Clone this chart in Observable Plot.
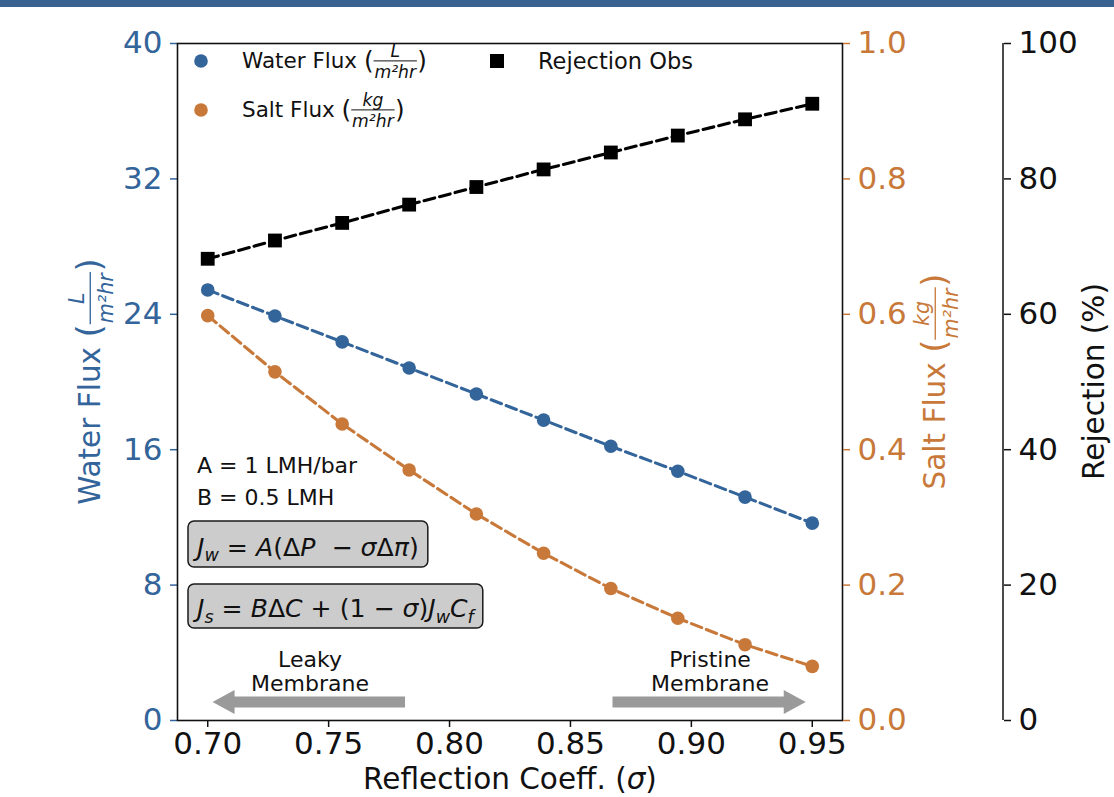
<!DOCTYPE html>
<html><head><meta charset="utf-8">
<script src="https://cdn.jsdelivr.net/npm/d3@7"></script>
<script src="https://cdn.jsdelivr.net/npm/@observablehq/plot@0.6"></script>
<style>
body{margin:0;background:#fff;}
#wrap{position:relative;width:1114px;height:797px;overflow:hidden;background:#fff;}
#bar{position:absolute;left:0;top:0;width:1114px;height:7px;background:#3a6291;}
#wrap svg{position:absolute;left:0;top:0;}
</style></head><body>
<div id="wrap"><div id="bar"></div></div>
<script>
// ---- data ----
const sigma = [0.70, 0.7278, 0.7556, 0.7833, 0.8111, 0.8389, 0.8667, 0.8944, 0.9222, 0.95];
const waterFlux = [25.44, 23.90, 22.37, 20.83, 19.29, 17.75, 16.20, 14.73, 13.20, 11.66];
const saltFlux = [0.598, 0.515, 0.438, 0.370, 0.305, 0.247, 0.195, 0.151, 0.112, 0.080];
const rejection = [68.2, 70.9, 73.5, 76.2, 78.8, 81.4, 83.9, 86.4, 88.8, 91.1];
const xTicks = [0.70, 0.75, 0.80, 0.85, 0.90, 0.95];
const waterTicks = [0, 8, 16, 24, 32, 40];
const saltTicks = [0, 0.2, 0.4, 0.6, 0.8, 1.0];
const rejTicks = [0, 20, 40, 60, 80, 100];

const BLUE = "#33649a", ORANGE = "#c8793a", INK = "#111";
const FONT = "DejaVu Sans, Verdana, sans-serif";
const rows = sigma.map((s, i) => ({sigma: s, water: waterFlux[i], salt: saltFlux[i], rej: rejection[i]}));

const W = 1114, H = 797;
const TICKFS = 31;
const base = {
  width: W, height: H, marginLeft: 177, marginRight: 272, marginTop: 43, marginBottom: 77,
  style: {fontFamily: FONT, fontSize: TICKFS + "px", background: "transparent", overflow: "visible"}
};
const xDomain = [0.6875, 0.9625];
const dash = "11,5";
const LW = 3.1;

const p1 = Plot.plot({
  ...base,
  x: {domain: xDomain},
  y: {domain: [0, 40]},
  marks: [
    Plot.line(rows, {x: "sigma", y: "water", stroke: BLUE, strokeWidth: LW, strokeDasharray: dash}),
    Plot.dot(rows, {x: "sigma", y: "water", r: 6.8, fill: BLUE}),
    Plot.axisX(xTicks, {color: INK, tickSize: 7, tickPadding: 4, strokeWidth: 1.5, fontSize: TICKFS, tickFormat: d => d.toFixed(2), label: null}),
    Plot.axisY(waterTicks, {anchor: "left", color: BLUE, tickSize: 7, tickPadding: 8, strokeWidth: 1.5, fontSize: TICKFS, label: null}),
    Plot.frame({stroke: INK, strokeWidth: 1.6})
  ]
});

const p2 = Plot.plot({
  ...base,
  x: {domain: xDomain, axis: null},
  y: {domain: [0, 1]},
  marks: [
    Plot.line(rows, {x: "sigma", y: "salt", stroke: ORANGE, strokeWidth: LW, strokeDasharray: dash}),
    Plot.dot(rows, {x: "sigma", y: "salt", r: 6.8, fill: ORANGE}),
    Plot.axisY(saltTicks, {anchor: "right", color: ORANGE, tickSize: 7, tickPadding: 8, strokeWidth: 1.5, fontSize: TICKFS, tickFormat: d => d.toFixed(1), label: null})
  ]
});

const p3 = Plot.plot({
  ...base,
  x: {domain: xDomain, axis: null},
  y: {domain: [0, 100]},
  marks: [
    Plot.line(rows, {x: "sigma", y: "rej", stroke: "#000", strokeWidth: LW, strokeDasharray: dash}),
    Plot.dot(rows, {x: "sigma", y: "rej", symbol: "square", r: 7.8, fill: "#000"}),
    Plot.axisY(rejTicks, {anchor: "right", dx: 161, color: INK, tickSize: 7, tickPadding: 8, strokeWidth: 1.5, fontSize: TICKFS, label: null})
  ]
});

const wrap = document.getElementById("wrap");
wrap.append(p1, p2, p3);

const svg = d3.select(p3);
const yR = p3.scale("y");
const ann = svg.append("g").attr("font-family", FONT).attr("text-anchor", "start");

// rejection axis spine
ann.append("line").attr("x1", 1003).attr("x2", 1003)
  .attr("y1", yR.apply(0)).attr("y2", yR.apply(100))
  .attr("stroke", INK).attr("stroke-width", 1.5);

function txt(parent, s, x, y, size, color, anchor = "start") {
  return parent.append("text").attr("x", x).attr("y", y).attr("font-size", size)
    .attr("fill", color).attr("text-anchor", anchor).style("white-space", "pre").text(s);
}

// label with a stacked fraction inside slightly enlarged parentheses
function fracLabel(parent, {x, y, rotate = 0, size, color, pre, num, den, center = false, fr = 0.8}) {
  const g = parent.append("g").attr("fill", color);
  const t1 = txt(g, pre, 0, 0, size, color);
  const w1 = t1.node().getComputedTextLength();
  const ps = size * 1.15, pdy = size * 0.05;
  const lp = txt(g, "(", w1, pdy, ps, color);
  const wp = lp.node().getComputedTextLength();
  const fs = size * fr;
  const tn = txt(g, num, 0, 0, fs, color, "middle").attr("font-style", "italic");
  const td = txt(g, den, 0, 0, fs, color, "middle").attr("font-style", "italic");
  const fw = Math.max(tn.node().getComputedTextLength(), td.node().getComputedTextLength()) + size * 0.08;
  const x0 = w1 + wp;
  const ly = -size * 0.33;
  tn.attr("x", x0 + fw / 2).attr("y", ly - size * 0.2);
  td.attr("x", x0 + fw / 2).attr("y", ly + size * 0.78);
  g.append("line").attr("x1", x0).attr("x2", x0 + fw).attr("y1", ly).attr("y2", ly)
    .attr("stroke", color).attr("stroke-width", Math.max(1, size * 0.045));
  const rp = txt(g, ")", x0 + fw + size * 0.02, pdy, ps, color);
  const total = x0 + fw + size * 0.02 + rp.node().getComputedTextLength();
  const ox = center ? -total / 2 : 0;
  g.attr("transform", `translate(${x},${y}) rotate(${rotate}) translate(${ox},0)`);
  return g;
}

const LABFS = 29.5;
// axis labels
fracLabel(ann, {x: 100, y: 381.5, rotate: -90, size: LABFS, color: BLUE, pre: "Water Flux ", num: "L", den: "m²hr", center: true, fr: 0.7});
fracLabel(ann, {x: 945, y: 381.5, rotate: -90, size: LABFS, color: ORANGE, pre: "Salt Flux ", num: "kg", den: "m²hr", center: true, fr: 0.7});
txt(ann, "Rejection (%)", 0, 0, LABFS, INK, "middle").attr("transform", "translate(1104,381.5) rotate(-90)");
{
  const t = txt(ann, "", 510, 789, LABFS, INK, "middle");
  t.append("tspan").text("Reflection Coeff. (");
  t.append("tspan").attr("font-style", "italic").text("σ");
  t.append("tspan").text(")");
}

// legend
ann.append("circle").attr("cx", 201).attr("cy", 61).attr("r", 6.8).attr("fill", BLUE);
fracLabel(ann, {x: 242, y: 68, size: 21.5, color: INK, pre: "Water Flux ", num: "L", den: "m²hr"});
ann.append("circle").attr("cx", 201).attr("cy", 110).attr("r", 6.8).attr("fill", ORANGE);
fracLabel(ann, {x: 242, y: 117, size: 21.5, color: INK, pre: "Salt Flux ", num: "kg", den: "m²hr"});
ann.append("rect").attr("x", 490).attr("y", 54).attr("width", 14).attr("height", 14).attr("fill", "#000");
txt(ann, "Rejection Obs", 538, 69, 22.5, INK);

// parameter text
txt(ann, "A = 1 LMH/bar", 197, 473, 22, INK);
txt(ann, "B = 0.5 LMH", 197, 505, 22, INK);

// equation boxes
function mathBox(parent, segs, x0, y0, h, targetW) {
  const g = parent.append("g");
  const rect = g.append("rect");
  const t = g.append("text").attr("fill", INK).attr("text-anchor", "start").style("white-space", "pre");
  function build(size) {
    t.selectAll("*").remove();
    t.attr("font-size", size);
    let off = 0;
    segs.forEach(([s, k]) => {
      const ts = t.append("tspan").text(s);
      if (k === "i" || k === "sub") ts.attr("font-style", "italic");
      const target = k === "sub" ? size * 0.22 : 0;
      if (target !== off) { ts.attr("dy", target - off); off = target; }
      if (k === "sub") ts.attr("font-size", size * 0.7);
    });
    return t.node().getComputedTextLength();
  }
  let size = 26;
  const w0 = build(size);
  size = Math.max(20, Math.min(30, size * targetW / w0));
  const w = build(size);
  const pad = 9;
  t.attr("x", x0 + pad).attr("y", y0 + h * 0.755);
  rect.attr("x", x0).attr("y", y0).attr("width", w + 2 * pad).attr("height", h)
    .attr("rx", 6).attr("fill", "#cccccc").attr("stroke", "#1a1a1a").attr("stroke-width", 1.5);
}
mathBox(ann, [["J", "i"], ["w", "sub"], [" = ", "r"], ["A", "i"], ["(", "r"], ["Δ", "r"], ["P", "i"],
  ["  − ", "r"], ["σ", "i"], ["Δ", "r"], ["π", "i"], [")", "r"]], 188, 521, 46, 222);
mathBox(ann, [["J", "i"], ["s", "sub"], [" = ", "r"], ["B", "i"], ["Δ", "r"], ["C", "i"], [" + ", "r"],
  ["(1 − ", "r"], ["σ", "i"], [")", "r"], ["J", "i"], ["w", "sub"], ["C", "i"], ["f", "sub"]], 188, 584, 44, 277);

// membrane arrows
const xS = p1.scale("x"), yW = p1.scale("y");
function blockArrow(xTail, xTip, yc) {
  const dir = Math.sign(xTip - xTail);
  const hl = 22, hw = 12, sw = 5.5;
  const xb = xTip - dir * hl;
  const pts = [[xTail, yc - sw], [xb, yc - sw], [xb, yc - hw], [xTip, yc], [xb, yc + hw], [xb, yc + sw], [xTail, yc + sw]];
  ann.append("path").attr("d", "M" + pts.map(p => p.join(",")).join("L") + "Z").attr("fill", "#9a9a9a");
}
const yArrow = yW.apply(1.06);
blockArrow(xS.apply(0.7818), xS.apply(0.7022), yArrow);
blockArrow(xS.apply(0.8676), xS.apply(0.9475), yArrow);
txt(ann, "Leaky", 310, 667, 22, INK, "middle");
txt(ann, "Membrane", 310, 691, 22, INK, "middle");
txt(ann, "Pristine", 710, 667, 22, INK, "middle");
txt(ann, "Membrane", 710, 691, 22, INK, "middle");
</script>
</body></html>
